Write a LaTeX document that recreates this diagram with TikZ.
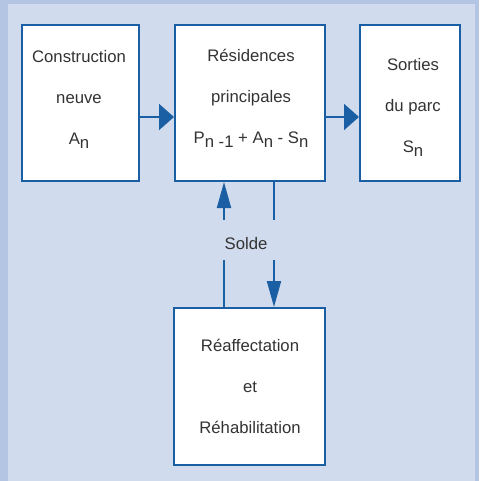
\documentclass[tikz,border=0pt]{standalone}
\usepackage{fontspec}
\setmainfont{Liberation Sans}
\usetikzlibrary{arrows.meta}

\definecolor{frameblue}{HTML}{B3C5E2}
\definecolor{panelblue}{HTML}{D0DBED}
\definecolor{lineblue}{HTML}{1A5EA4}
\definecolor{textgray}{HTML}{333333}

% lowered index, same size as the text
\newcommand{\idx}[1]{\raisebox{-4pt}{#1}}

\begin{document}
\begin{tikzpicture}
            [x=1pt, y=-1pt,
            box/.style={rectangle, draw=lineblue, fill=white, line width=2pt, inner sep=0pt},
            txt/.style={align=center, text=textgray, inner sep=0pt, font=\fontsize{16.7}{41}\selectfont},
            flow/.style={lineblue, line width=2pt},
            hflow/.style={flow, -{Triangle[length=15pt, width=26pt]}},
            vflow/.style={flow, -{Triangle[length=26pt, width=14pt]}}]

            % background panel
            \useasboundingbox (0,0) rectangle (479,481);
            \fill[frameblue] (0,0) rectangle (479,481);
            \fill[panelblue] (8,4) rectangle (475,481);

            \node[box, minimum width=117pt, minimum height=156pt] (cons) at (80.5,103) {};
            \node[box, minimum width=150pt, minimum height=156pt] (res) at (250,103) {};
            \node[box, minimum width=100pt, minimum height=156pt] (sort) at (410,103) {};
            \node[box, minimum width=151pt, minimum height=157pt] (reaf) at (249.5,386.5) {};

            % Texts of the boxes
            \node[txt] (tcons) at (79,99) {Construction\\neuve\\A\idx{n}};
            \node[txt] (tres) at (251,98) {Résidences\\principales\\P\idx{n -1} + A\idx{n} - S\idx{n}};
            \node[txt] (tsort) at (413,107) {Sorties\\du parc\\S\idx{n}};
            \node[txt] (treaf) at (250,386) {Réaffectation\\et\\Réhabilitation};
            \node[txt] (solde) at (246,244) {Solde};

            % Flows between the boxes
            \draw[hflow] ([yshift=-14pt]cons.east) -- ([yshift=-14pt]cons.east -| res.west);
            \draw[hflow] ([yshift=-14pt]res.east) -- ([yshift=-14pt]res.east -| sort.west);

            \draw[flow] ([xshift=-25.5pt]reaf.north) -- ++(0,-47);
            \draw[vflow] ([xshift=-26pt,yshift=-38pt]res.south) -- ([xshift=-26pt]res.south);
            \draw[flow] ([xshift=24pt]res.south) -- ++(0,38);
            \draw[vflow] ([xshift=24.5pt,yshift=47pt]reaf.north) -- ([xshift=24.5pt]reaf.north);

        \end{tikzpicture}
\end{document}
